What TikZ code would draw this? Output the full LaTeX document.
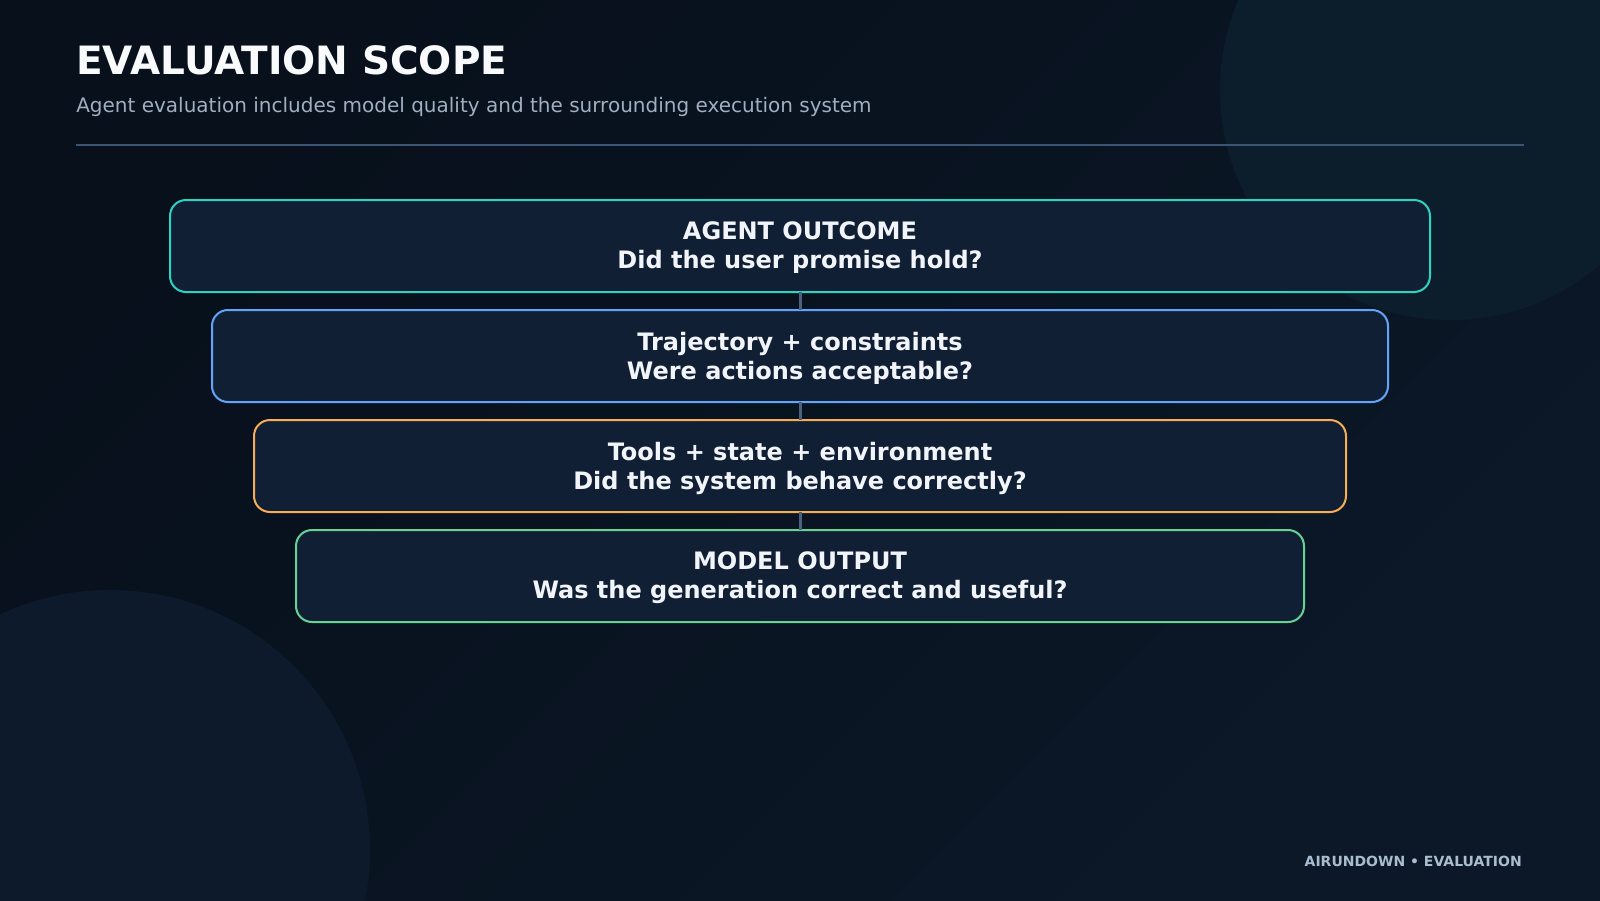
\documentclass[tikz,border=0pt]{standalone}
\usepackage{fontspec}
\setmainfont{DejaVu Sans}

\definecolor{bgtop}{HTML}{07101B}
\definecolor{bgbot}{HTML}{0C1828}
\definecolor{glowteal}{HTML}{0C1E2C}
\definecolor{glowblue}{HTML}{0D1A2B}
\definecolor{rulecol}{HTML}{3B5573}
\definecolor{boxfill}{HTML}{111F35}
\definecolor{tealline}{HTML}{2DD4BF}
\definecolor{blueline}{HTML}{60A5FA}
\definecolor{orangeline}{HTML}{F6AD55}
\definecolor{greenline}{HTML}{68D391}
\definecolor{linkcol}{HTML}{4A6280}
\definecolor{titlecol}{HTML}{F8FAFC}
\definecolor{subcol}{HTML}{A0AEC0}
\definecolor{footcol}{HTML}{A9BCD0}
\definecolor{boxtext}{HTML}{F1F5F9}

\tikzset{
  layer/.style={rounded corners=12pt,line width=1.5pt,fill=boxfill,
    minimum height=69pt,inner sep=0pt,outer sep=0pt},
  layertext/.style={align=center,inner sep=0pt,text=boxtext,
    font=\bfseries\fontsize{18}{21.75}\selectfont},
  link/.style={linkcol,line width=2.25pt}
}

\providecommand{\Layer}[5]{
\node[layer,draw=#3,minimum width=#4] (#1) at (800,#2) {};
\node[layertext] (#1-text) at ([yshift=-1.5pt]#1.center) {#5};
}

\begin{document}
\begin{tikzpicture}[x=0.75pt,y=-0.75pt]
\useasboundingbox (0,0) rectangle (1600,900);
\clip (0,0) rectangle (1600,900);
% backdrop
\shade[top color=bgtop,bottom color=bgbot,shading angle=45] (0,0) rectangle (1600,900);
\fill[glowteal] (1450,90) circle[radius=172.5pt];
\fill[glowblue] (110,850) circle[radius=195pt];

% heading
\node[anchor=base west,text=titlecol,font=\bfseries\fontsize{29.25}{35}\selectfont,inner sep=0pt] (title) at (76,74) {EVALUATION SCOPE};
\node[anchor=base west,text=subcol,font=\fontsize{15}{18}\selectfont,inner sep=0pt] (subtitle) at (76,112) {Agent evaluation includes model quality and the surrounding execution system};
\draw[rulecol,line width=1.5pt] (76,145) -- (1524,145);

% layers
\Layer{outcome}{246}{tealline}{945pt}{AGENT OUTCOME\\Did the user promise hold?}
\Layer{trajectory}{356}{blueline}{882pt}{Trajectory + constraints\\Were actions acceptable?}
\Layer{tools}{466}{orangeline}{819pt}{Tools + state + environment\\Did the system behave correctly?}
\Layer{model}{576}{greenline}{756pt}{MODEL OUTPUT\\Was the generation correct and useful?}

\draw[link] (outcome.south) -- (trajectory.north);
\draw[link] (trajectory.south) -- (tools.north);
\draw[link] (tools.south) -- (model.north);

% footer
\node[anchor=base east,text=footcol,font=\bfseries\fontsize{10.5}{12}\selectfont,inner sep=0pt] (footer) at (1522,866) {AIRUNDOWN • EVALUATION};
\end{tikzpicture}
\end{document}
